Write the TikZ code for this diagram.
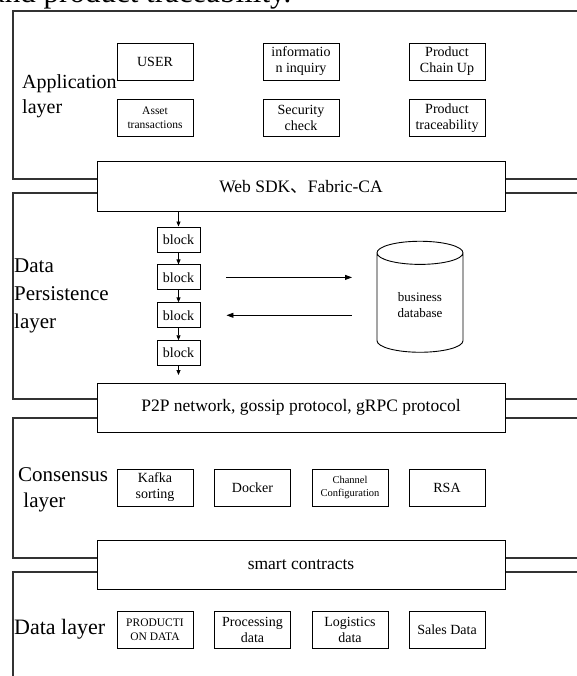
\documentclass[tikz,border=0pt]{standalone}
\usepackage{fontspec}
\setmainfont{Liberation Serif}
\newfontfamily\cjk{Noto Sans CJK SC}
\usetikzlibrary{positioning,shapes.geometric,arrows.meta}

\begin{document}
\begin{tikzpicture}[x=1pt,y=-1pt,
    layer/.style={line width=1.1pt,draw=black!80},
    bar/.style={draw,fill=white,line width=1pt,minimum width=408pt,minimum height=49pt,font=\fontsize{17.5}{20}\selectfont},
    modbox/.style={draw,line width=0.9pt,minimum width=76pt,minimum height=37pt,inner sep=0pt,align=center,font=\fontsize{14}{16}\selectfont},
    smalltxt/.style={font=\fontsize{11.5}{14}\selectfont},
    blk/.style={draw,line width=0.9pt,minimum width=43pt,minimum height=25pt,inner sep=0pt,font=\fontsize{14}{16}\selectfont},
    layerlbl/.style={anchor=west,align=left,inner sep=0pt,font=\fontsize{21}{28}\selectfont},
    arr/.style={-{Triangle[length=5pt,width=4pt]},line width=0.8pt},
    longarr/.style={line width=0.8pt,shorten <=26pt,shorten >=68pt}]
  \useasboundingbox (0,0) rectangle (577,676);
  % caption line, cut off by the page edge
  \node[anchor=base west,inner sep=0pt,font=\fontsize{31}{34}\selectfont] (cap) at (-9,3) {and product traceability.};

  % layer frames
  \draw[layer] (577,11) -| (13,179) -- (577,179);
  \draw[layer] (577,193) -| (13,399) -- (577,399);
  \draw[layer] (577,418) -| (13,558) -- (577,558);
  \draw[layer] (577,572) -| (13,676);

  % interfaces between the layers
  \node[bar] (sdk) at (301,186.5) {Web SDK{\cjk 、}Fabric-CA};
  \node[bar] (p2p) at (301,407.5) {P2P network, gossip protocol, gRPC protocol};
  \node[bar] (sc) at (301,564.5) {smart contracts};

  % application layer
  \node[layerlbl,font=\fontsize{20}{25}\selectfont] (app) at (22,96) {Application\\layer};
  \node[modbox] (user) at (155,61.5) {USER};
  \node[modbox] (info) at (301,61.5) {informatio\\n inquiry};
  \node[modbox] (chain) at (447,61.5) {Product\\Chain Up};
  \node[modbox,smalltxt] (asset) at (155,118) {Asset\\transactions};
  \node[modbox] (sec) at (301,118) {Security\\check};
  \node[modbox] (trace) at (447,118) {Product\\traceability};

  % data persistence layer
  \node[layerlbl] (dp) at (14,296) {Data\\Persistence\\layer};
  \node[blk] (b1) at (178.5,239.5) {block};
  \node[blk,below=12pt of b1] (b2) {block};
  \node[blk,below=12pt of b2] (b3) {block};
  \node[blk,below=12pt of b3] (b4) {block};
  \coordinate (bend) at (178.5,375);
  \draw[arr] (b1 |- sdk.south) -- (b1.north);
  \draw[arr] (b1) -- (b2);
  \draw[arr] (b2) -- (b3);
  \draw[arr] (b3) -- (b4);
  \draw[arr] (b4) -- (bend);
  \node[cylinder,shape border rotate=90,draw,line width=0.9pt,aspect=0.45,minimum width=86pt,minimum height=111pt,
        align=center,font=\fontsize{13}{16}\selectfont] (db) at (420,305) {business\\database};
  \draw[longarr,-{Triangle[length=7pt,width=5pt]}] (b2.east) -- (b2 -| db);
  \draw[longarr,{Triangle[length=7pt,width=5pt]}-] (b3.east) -- (b3 -| db);

  % consensus layer
  \node[layerlbl,font=\fontsize{21}{26}\selectfont] (cons) at (18,490) {Consensus\\\ layer};
  \node[modbox] (kafka) at (155,487.5) {Kafka\\sorting};
  \node[modbox] (docker) at (252.5,487.5) {Docker};
  \node[modbox,font=\fontsize{10.5}{13}\selectfont] (chan) at (350,487.5) {Channel\\Configuration};
  \node[modbox] (rsa) at (447,487.5) {RSA};

  % data layer
  \node[layerlbl,anchor=base west,font=\fontsize{22}{26}\selectfont] (dl) at (14,634) {Data layer};
  \node[modbox,smalltxt] (prod) at (155,629.5) {PRODUCTI\\ON DATA};
  \node[modbox] (proc) at (252.5,629.5) {Processing\\data};
  \node[modbox] (logi) at (350,629.5) {Logistics\\data};
  \node[modbox] (sales) at (447,629.5) {Sales Data};
\end{tikzpicture}
\end{document}
